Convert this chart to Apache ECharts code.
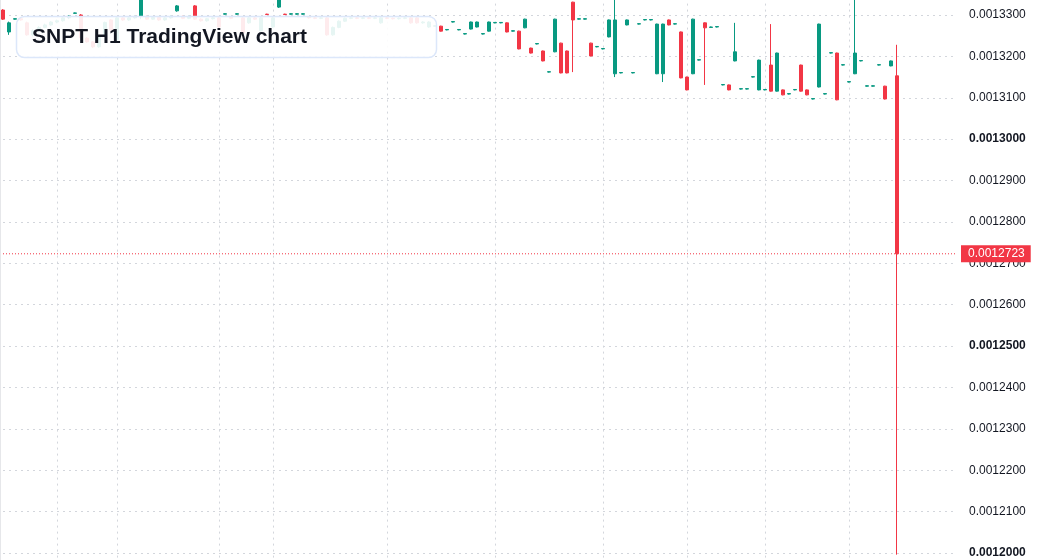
<!DOCTYPE html>
<html>
<head>
    <meta charset="utf-8" />
    <title>SNPT H1</title>
    <script src="https://cdn.jsdelivr.net/npm/echarts@6.0.0/dist/echarts.min.js"></script>
    <style>
        html, body { margin: 0; padding: 0; background: #ffffff; }
    </style>
</head>
<body>
    <div id="main" style="width: 1037px; height: 560px;"></div>

    <script type="text/javascript">
        // candle values, one entry per hourly bar
        var opens = [
            0.0013312, 0.0013259, 0.0013290, 0.0013291, 0.0013281, 0.0013252, 0.0013262, 0.0013270, 0.0013276, 0.0013283,
            0.0013286, 0.0013293, 0.0013304, 0.0013300, 0.0013244, 0.0013235, 0.0013223, 0.0013250, 0.0013288, 0.0013240,
            0.0013293, 0.0013288, 0.0013293, 0.0013296, 0.0013296, 0.0013290, 0.0013294, 0.0013288, 0.0013293, 0.0013310,
            0.0013296, 0.0013292, 0.0013322, 0.0013290, 0.0013286, 0.0013291, 0.0013293, 0.0013302, 0.0013295, 0.0013302,
            0.0013293, 0.0013281, 0.0013293, 0.0013262, 0.0013302, 0.0013271, 0.0013319, 0.0013302, 0.0013302, 0.0013302,
            0.0013302, 0.0013295, 0.0013293, 0.0013292, 0.0013293, 0.0013252, 0.0013270, 0.0013285, 0.0013292, 0.0013293,
            0.0013292, 0.0013293, 0.0013292, 0.0013281, 0.0013293, 0.0013292, 0.0013291, 0.0013292, 0.0013293, 0.0013293,
            0.0013281, 0.0013271, 0.0013273, 0.0013273, 0.0013264, 0.0013283, 0.0013264, 0.0013254, 0.0013266, 0.0013271,
            0.0013254, 0.0013261, 0.0013281, 0.0013281, 0.0013281, 0.0013261, 0.0013261, 0.0013269, 0.0013220, 0.0013230,
            0.0013213, 0.0013162, 0.0013211, 0.0013232, 0.0013213, 0.0013331, 0.0013290, 0.0013290, 0.0013232, 0.0013223,
            0.0013218, 0.0013247, 0.0013158, 0.0013160, 0.0013276, 0.0013160, 0.0013278, 0.0013288, 0.0013288, 0.0013158,
            0.0013158, 0.0013288, 0.0013278, 0.0013259, 0.0013150, 0.0013158, 0.0013191, 0.0013281, 0.0013270, 0.0013271,
            0.0013131, 0.0013131, 0.0013189, 0.0013121, 0.0013121, 0.0013150, 0.0013119, 0.0013119, 0.0013179, 0.0013116,
            0.0013119, 0.0013109, 0.0013119, 0.0013179, 0.0013119, 0.0013097, 0.0013126, 0.0013109, 0.0013208, 0.0013208,
            0.0013179, 0.0013138, 0.0013158, 0.0013189, 0.0013128, 0.0013128, 0.0013179, 0.0013128, 0.0013177, 0.0013153
        ];
        var closes = [
            0.0013290, 0.0013281, 0.0013291, 0.0013288, 0.0013252, 0.0013262, 0.0013270, 0.0013276, 0.0013283, 0.0013286,
            0.0013293, 0.0013297, 0.0013305, 0.0013245, 0.0013235, 0.0013223, 0.0013250, 0.0013282, 0.0013264, 0.0013293,
            0.0013288, 0.0013293, 0.0013296, 0.0013345, 0.0013290, 0.0013294, 0.0013288, 0.0013293, 0.0013296, 0.0013322,
            0.0013292, 0.0013296, 0.0013290, 0.0013286, 0.0013291, 0.0013293, 0.0013271, 0.0013303, 0.0013292, 0.0013303,
            0.0013257, 0.0013293, 0.0013290, 0.0013293, 0.0013301, 0.0013293, 0.0013340, 0.0013301, 0.0013303, 0.0013303,
            0.0013303, 0.0013293, 0.0013292, 0.0013293, 0.0013252, 0.0013270, 0.0013285, 0.0013292, 0.0013293, 0.0013292,
            0.0013293, 0.0013292, 0.0013293, 0.0013293, 0.0013292, 0.0013291, 0.0013292, 0.0013293, 0.0013281, 0.0013281,
            0.0013283, 0.0013283, 0.0013274, 0.0013261, 0.0013265, 0.0013284, 0.0013265, 0.0013255, 0.0013283, 0.0013283,
            0.0013255, 0.0013283, 0.0013282, 0.0013282, 0.0013259, 0.0013262, 0.0013218, 0.0013290, 0.0013208, 0.0013231,
            0.0013189, 0.0013163, 0.0013290, 0.0013160, 0.0013160, 0.0013288, 0.0013291, 0.0013291, 0.0013201, 0.0013224,
            0.0013219, 0.0013288, 0.0013288, 0.0013161, 0.0013288, 0.0013161, 0.0013279, 0.0013289, 0.0013289, 0.0013278,
            0.0013278, 0.0013276, 0.0013279, 0.0013148, 0.0013119, 0.0013290, 0.0013192, 0.0013269, 0.0013271, 0.0013272,
            0.0013132, 0.0013119, 0.0013211, 0.0013122, 0.0013122, 0.0013151, 0.0013191, 0.0013120, 0.0013116, 0.0013208,
            0.0013107, 0.0013110, 0.0013120, 0.0013116, 0.0013107, 0.0013098, 0.0013278, 0.0013110, 0.0013209, 0.0013095,
            0.0013180, 0.0013139, 0.0013208, 0.0013190, 0.0013129, 0.0013129, 0.0013180, 0.0013097, 0.0013189, 0.0012723
        ];
        var lows = [
            0.0013288, 0.0013252, 0.0013289, 0.0013286, 0.0013250, 0.0013248, 0.0013258, 0.0013268, 0.0013274, 0.0013280,
            0.0013284, 0.0013290, 0.0013303, 0.0013243, 0.0013233, 0.0013220, 0.0013221, 0.0013248, 0.0013262, 0.0013238,
            0.0013286, 0.0013286, 0.0013291, 0.0013290, 0.0013288, 0.0013288, 0.0013286, 0.0013286, 0.0013291, 0.0013308,
            0.0013290, 0.0013290, 0.0013288, 0.0013284, 0.0013284, 0.0013289, 0.0013269, 0.0013301, 0.0013290, 0.0013301,
            0.0013255, 0.0013279, 0.0013288, 0.0013260, 0.0013300, 0.0013269, 0.0013317, 0.0013300, 0.0013301, 0.0013301,
            0.0013301, 0.0013291, 0.0013290, 0.0013290, 0.0013250, 0.0013250, 0.0013268, 0.0013283, 0.0013290, 0.0013290,
            0.0013290, 0.0013290, 0.0013290, 0.0013279, 0.0013290, 0.0013289, 0.0013289, 0.0013290, 0.0013279, 0.0013279,
            0.0013279, 0.0013269, 0.0013272, 0.0013260, 0.0013263, 0.0013282, 0.0013263, 0.0013253, 0.0013265, 0.0013270,
            0.0013253, 0.0013260, 0.0013280, 0.0013280, 0.0013258, 0.0013260, 0.0013217, 0.0013268, 0.0013207, 0.0013229,
            0.0013188, 0.0013161, 0.0013210, 0.0013159, 0.0013159, 0.0013162, 0.0013289, 0.0013289, 0.0013200, 0.0013222,
            0.0013217, 0.0013246, 0.0013150, 0.0013159, 0.0013275, 0.0013159, 0.0013277, 0.0013287, 0.0013287, 0.0013157,
            0.0013138, 0.0013275, 0.0013277, 0.0013147, 0.0013118, 0.0013157, 0.0013190, 0.0013131, 0.0013269, 0.0013270,
            0.0013130, 0.0013118, 0.0013188, 0.0013120, 0.0013120, 0.0013149, 0.0013118, 0.0013118, 0.0013115, 0.0013115,
            0.0013106, 0.0013108, 0.0013118, 0.0013115, 0.0013106, 0.0013096, 0.0013125, 0.0013108, 0.0013207, 0.0013094,
            0.0013178, 0.0013137, 0.0013157, 0.0013188, 0.0013127, 0.0013127, 0.0013178, 0.0013096, 0.0013176, 0.0011996
        ];
        var highs = [
            0.0013314, 0.0013284, 0.0013292, 0.0013293, 0.0013284, 0.0013265, 0.0013273, 0.0013279, 0.0013285, 0.0013289,
            0.0013295, 0.0013299, 0.0013306, 0.0013302, 0.0013246, 0.0013237, 0.0013252, 0.0013284, 0.0013290, 0.0013295,
            0.0013295, 0.0013295, 0.0013298, 0.0013350, 0.0013298, 0.0013296, 0.0013296, 0.0013295, 0.0013298, 0.0013324,
            0.0013298, 0.0013298, 0.0013324, 0.0013292, 0.0013293, 0.0013295, 0.0013295, 0.0013304, 0.0013297, 0.0013304,
            0.0013295, 0.0013295, 0.0013295, 0.0013295, 0.0013303, 0.0013295, 0.0013345, 0.0013303, 0.0013304, 0.0013304,
            0.0013304, 0.0013297, 0.0013295, 0.0013295, 0.0013295, 0.0013272, 0.0013287, 0.0013294, 0.0013295, 0.0013295,
            0.0013295, 0.0013295, 0.0013295, 0.0013295, 0.0013295, 0.0013294, 0.0013294, 0.0013295, 0.0013295, 0.0013295,
            0.0013285, 0.0013285, 0.0013275, 0.0013274, 0.0013266, 0.0013285, 0.0013266, 0.0013256, 0.0013284, 0.0013284,
            0.0013256, 0.0013284, 0.0013283, 0.0013283, 0.0013282, 0.0013263, 0.0013262, 0.0013291, 0.0013221, 0.0013232,
            0.0013214, 0.0013164, 0.0013291, 0.0013233, 0.0013214, 0.0013332, 0.0013292, 0.0013292, 0.0013233, 0.0013225,
            0.0013220, 0.0013289, 0.0013345, 0.0013162, 0.0013289, 0.0013162, 0.0013280, 0.0013290, 0.0013290, 0.0013279,
            0.0013279, 0.0013289, 0.0013280, 0.0013260, 0.0013151, 0.0013291, 0.0013193, 0.0013282, 0.0013272, 0.0013273,
            0.0013133, 0.0013132, 0.0013281, 0.0013123, 0.0013123, 0.0013152, 0.0013192, 0.0013121, 0.0013278, 0.0013209,
            0.0013120, 0.0013111, 0.0013121, 0.0013180, 0.0013120, 0.0013099, 0.0013279, 0.0013111, 0.0013210, 0.0013209,
            0.0013181, 0.0013140, 0.0013345, 0.0013191, 0.0013130, 0.0013130, 0.0013181, 0.0013129, 0.0013190, 0.0013228
        ];
        var lastPrice = 0.0012723;
        var slotCount = 160;                  // bars plus empty right offset
        var timeGridBars = [9, 19, 36, 45, 64, 82, 100, 114, 127, 141];

        var upColor = '#089981';
        var downColor = '#f23645';

        var categories = [];
        var candles = [];
        var priceLine = [];
        for (var i = 0; i < slotCount; i++) {
            categories.push(String(i));
            priceLine.push(lastPrice);
            if (i < opens.length) {
                candles.push([opens[i], closes[i], lows[i], highs[i]]);
            } else {
                candles.push(['-', '-', '-', '-']);
            }
        }

        var myChart = echarts.init(document.getElementById('main'));

        var option = {
            animation: false,
            backgroundColor: '#ffffff',
            grid: {
                left: 3,
                right: 80,
                top: -26.4,
                bottom: -34.4,
                outerBoundsMode: 'none',
                containLabel: false
            },
            xAxis: {
                type: 'category',
                data: categories,
                boundaryGap: false,
                axisLine: { show: false },
                axisTick: { show: false },
                axisLabel: { show: false },
                splitLine: {
                    show: true,
                    interval: function (idx) { return timeGridBars.indexOf(idx) >= 0; },
                    lineStyle: { color: '#d3d6dc', type: [2, 4], width: 1 }
                }
            },
            yAxis: {
                type: 'value',
                position: 'right',
                min: 0.00119,
                max: 0.00134,
                interval: 0.00001,
                scale: true,
                axisLine: { show: false },
                axisTick: { show: false },
                axisLabel: {
                    margin: 12,
                    color: '#131722',
                    fontSize: 12,
                    fontFamily: 'Liberation Sans, Arial, sans-serif',
                    formatter: function (v) {
                        var s = v.toFixed(7);
                        return Math.round(v * 1e7) % 500 === 0 ? '{b|' + s + '}' : s;
                    },
                    rich: {
                        b: {
                            fontWeight: 'bold',
                            color: '#131722',
                            fontSize: 12,
                            fontFamily: 'Liberation Sans, Arial, sans-serif'
                        }
                    }
                },
                splitLine: {
                    lineStyle: { color: '#d3d6dc', type: [2, 4], width: 1 }
                }
            },
            series: [
                {
                    // last price line, drawn under the candles
                    type: 'line',
                    data: priceLine,
                    z: 1,
                    showSymbol: false,
                    symbol: 'none',
                    silent: true,
                    lineStyle: { color: downColor, type: [1, 2], width: 1 },
                    endLabel: {
                        show: true,
                        distance: 4,
                        color: '#ffffff',
                        backgroundColor: downColor,
                        fontSize: 12,
                        fontFamily: 'Liberation Sans, Arial, sans-serif',
                        padding: [3, 6, 2, 7],
                        formatter: function () { return lastPrice.toFixed(7); }
                    }
                },
                {
                    type: 'candlestick',
                    data: candles,
                    z: 2,
                    barWidth: 4,
                    itemStyle: {
                        color: upColor,
                        color0: downColor,
                        borderColor: upColor,
                        borderColor0: downColor,
                        borderWidth: 1
                    }
                }
            ],
            graphic: [
                {
                    type: 'rect',
                    z: 100,
                    shape: { x: 0, y: 0, width: 1, height: 560 },
                    style: { fill: '#e6e7ea' }
                },
                {
                    type: 'rect',
                    z: 100,
                    shape: { x: 16.5, y: 16.5, width: 420, height: 41, r: 8 },
                    style: { fill: 'rgba(255,255,255,0.9)', stroke: '#dce7fa', lineWidth: 1.5 }
                },
                {
                    type: 'text',
                    z: 101,
                    x: 32,
                    y: 37,
                    style: {
                        text: 'SNPT H1 TradingView chart',
                        fill: '#131722',
                        font: 'bold 21px "Liberation Sans", Arial, sans-serif',
                        verticalAlign: 'middle'
                    }
                }
            ]
        };

        myChart.setOption(option);
    </script>
</body>
</html>
